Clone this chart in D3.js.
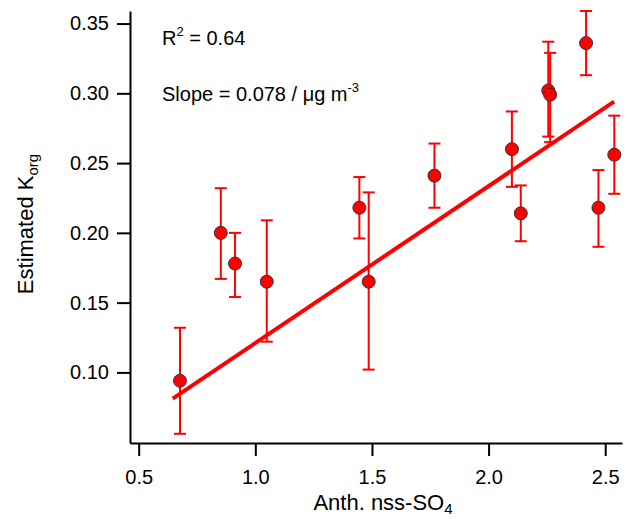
<!DOCTYPE html>
<html>
<head>
<meta charset="utf-8">
<script src="https://cdn.jsdelivr.net/npm/d3@7"></script>
<style>
  body { margin: 0; background: #fff; }
  text { font-family: Arial, "Liberation Sans", sans-serif; }
</style>
</head>
<body>
<div id="chart"></div>
<script>
// sulfate (x), estimated Korg (y), error bar bounds
const so4 = [0.677, 0.852, 0.913, 1.049, 1.446, 1.486, 1.768, 2.100, 2.138, 2.256, 2.264, 2.418, 2.471, 2.539];
const korg = [0.094, 0.200, 0.178, 0.165, 0.218, 0.165, 0.241, 0.260, 0.214, 0.302, 0.299, 0.336, 0.218, 0.256];
const korgHi = [0.132, 0.232, 0.200, 0.209, 0.240, 0.229, 0.264, 0.287, 0.234, 0.337, 0.329, 0.359, 0.245, 0.284];
const korgLo = [0.056, 0.167, 0.154, 0.122, 0.196, 0.102, 0.218, 0.233, 0.194, 0.269, 0.265, 0.313, 0.190, 0.228];
// fit line end points
const fitX = [0.646, 2.538];
const fitY = [0.0812, 0.294];
const xTicks = [0.5, 1.0, 1.5, 2.0, 2.5];
const yTicks = [0.10, 0.15, 0.20, 0.25, 0.30, 0.35];

const width = 627, height = 519;
const svg = d3.select('#chart').append('svg')
  .attr('width', width).attr('height', height);

const x = d3.scaleLinear().domain([0.4627, 2.572]).range([130, 622]);
const y = d3.scaleLinear().domain([0.0494, 0.359]).range([443, 11]);

// axes
const xAxis = svg.append('g')
  .attr('transform', `translate(0,${y.range()[0]})`)
  .call(d3.axisBottom(x).tickValues(xTicks).tickFormat(d3.format('.1f')).tickSize(13).tickPadding(14).tickSizeOuter(0));
const yAxis = svg.append('g')
  .attr('transform', `translate(${x.range()[0]},0)`)
  .call(d3.axisLeft(y).tickValues(yTicks).tickFormat(d3.format('.2f')).tickSize(13).tickPadding(8).tickSizeOuter(0));

[xAxis, yAxis].forEach(g => {
  g.select('.domain').attr('stroke', '#000').attr('stroke-width', 2);
  g.selectAll('.tick line').attr('stroke', '#000').attr('stroke-width', 2);
  g.selectAll('.tick text').attr('fill', '#000').style('font-size', '20px')
    .style('font-family', 'Arial, "Liberation Sans", sans-serif');
});

// fit line
svg.append('line')
  .attr('x1', x(fitX[0])).attr('y1', y(fitY[0]))
  .attr('x2', x(fitX[1])).attr('y2', y(fitY[1]))
  .attr('stroke', '#ff0000').attr('stroke-width', 4);

// error bars
const pts = so4.map((v, i) => ({ x: v, y: korg[i], hi: korgHi[i], lo: korgLo[i] }));
const eb = svg.append('g').attr('stroke', '#ff0000').attr('stroke-width', 2);
pts.forEach(d => {
  const cx = x(d.x);
  eb.append('line').attr('x1', cx).attr('x2', cx).attr('y1', y(d.hi)).attr('y2', y(d.lo));
  eb.append('line').attr('x1', cx - 6).attr('x2', cx + 6).attr('y1', y(d.hi)).attr('y2', y(d.hi));
  eb.append('line').attr('x1', cx - 6).attr('x2', cx + 6).attr('y1', y(d.lo)).attr('y2', y(d.lo));
});

// points
svg.append('g').selectAll('circle')
  .data(pts)
  .enter()
  .append('circle')
  .attr('cx', d => x(d.x))
  .attr('cy', d => y(d.y))
  .attr('r', 6.5)
  .attr('fill', '#ff0000')
  .attr('stroke', '#333')
  .attr('stroke-width', 1);

// annotations
const r2 = svg.append('text').attr('x', 162).attr('y', 45).style('font-size', '20px');
r2.append('tspan').text('R');
r2.append('tspan').attr('dy', -9).style('font-size', '13px').text('2');
r2.append('tspan').attr('dy', 9).text(' = 0.64');

const sl = svg.append('text').attr('x', 162).attr('y', 101).style('font-size', '20px');
sl.append('tspan').text('Slope = 0.078 / \u03bcg m');
sl.append('tspan').attr('dy', -9).style('font-size', '13px').text('-3');

// axis titles
const xt = svg.append('text').attr('x', 383).attr('y', 510)
  .attr('text-anchor', 'middle').style('font-size', '22px');
xt.append('tspan').text('Anth. nss-SO');
xt.append('tspan').attr('dy', 4).style('font-size', '15px').text('4');

const yt = svg.append('text')
  .attr('transform', 'translate(33,224) rotate(-90)')
  .attr('text-anchor', 'middle').style('font-size', '22px');
yt.append('tspan').text('Estimated K');
yt.append('tspan').attr('dy', 5).style('font-size', '15px').text('org');
</script>
</body>
</html>
